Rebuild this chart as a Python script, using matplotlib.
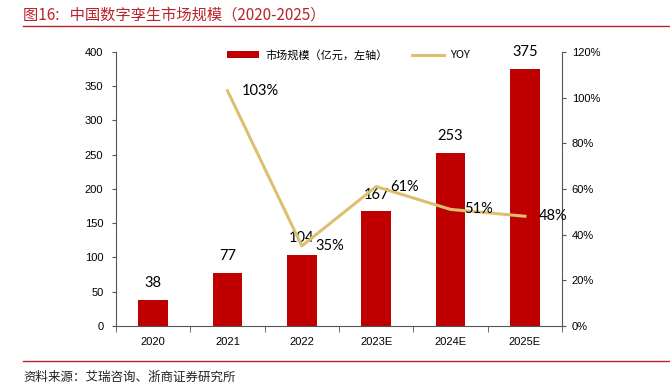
import matplotlib
matplotlib.use("Agg")
import matplotlib.pyplot as plt
from matplotlib.lines import Line2D
from matplotlib.patches import Patch

plt.rcParams['font.family'] = ['Liberation Sans', 'Noto Sans CJK SC', 'DejaVu Sans']

categories = ["2020", "2021", "2022", "2023E", "2024E", "2025E"]
market = [38, 77, 104, 167, 253, 375]
yoy_cats = ["2021", "2022", "2023E", "2024E", "2025E"]
yoy = [1.03, 0.35, 0.61, 0.51, 0.48]
yoy_labels = ["103%", "35%", "61%", "51%", "48%"]

bar_color = "#C00000"
line_color = "#DDC06F"
title_color = "#B8252B"

fig = plt.figure(figsize=(6.7, 3.87), dpi=100)
ax = fig.add_axes([0.173, 0.158, 0.666, 0.708])
ax2 = ax.twinx()

x = list(range(len(categories)))
ax.bar(x, market, width=0.4, color=bar_color, zorder=2)
for xi, v in zip(x, market):
    ax.annotate(str(v), (xi, v), xytext=(0, 7), textcoords="offset points",
                ha="center", va="bottom", fontsize=10.5, family=['Lato', 'DejaVu Sans'])

yx = [categories.index(c) for c in yoy_cats]
ax2.plot(yx, yoy, color=line_color, lw=2.2, zorder=3)
for xi, v, lab in zip(yx, yoy, yoy_labels):
    ax2.annotate(lab, (xi, v), xytext=(10, 0), textcoords="offset points",
                 ha="left", va="center", fontsize=10.5, family=['Lato', 'DejaVu Sans'])

ax.set_xlim(-0.5, len(categories) - 0.5)
ax.set_ylim(0, 400)
ax.set_yticks(range(0, 401, 50))
ax2.set_ylim(0, 1.2)
ax2.set_yticks([0, 0.2, 0.4, 0.6, 0.8, 1.0, 1.2])
ax2.set_yticklabels(["0%", "20%", "40%", "60%", "80%", "100%", "120%"])

ax.set_xticks(x)
ax.set_xticklabels(categories)
ax.set_xticks([i - 0.5 for i in range(len(categories) + 1)], minor=True)
ax.tick_params(axis='x', which='major', length=0, pad=8, labelsize=8)
ax.tick_params(axis='x', which='minor', length=4, direction='out', color='#555555')
ax.tick_params(axis='y', length=3, direction='out', labelsize=8, pad=6, color='#555555')
ax2.tick_params(axis='y', length=3, direction='out', labelsize=8, pad=4, color='#555555')

for a in (ax, ax2):
    a.spines['top'].set_visible(False)
    for s in ('left', 'right', 'bottom'):
        a.spines[s].set_color('#555555')
        a.spines[s].set_linewidth(0.8)
ax.spines['right'].set_visible(False)
ax2.spines['left'].set_visible(False)
ax2.spines['bottom'].set_visible(False)

handles = [Patch(facecolor=bar_color, label="市场规模（亿元，左轴）"),
           Line2D([0], [0], color=line_color, lw=2.2, label="YOY")]
leg = fig.legend(handles=handles, loc='center', bbox_to_anchor=(0.52, 0.858), ncol=2,
                 frameon=False, handlelength=2.9, handleheight=0.6, handletextpad=0.5,
                 columnspacing=2.2, prop={'family': ['Noto Sans CJK SC', 'DejaVu Sans'], 'size': 8})

fig.text(0.035, 0.962, "图16:   中国数字孪生市场规模（2020-2025）", color=title_color,
         fontsize=11, va='center', ha='left', family=['Noto Sans CJK SC', 'DejaVu Sans'])
fig.add_artist(Line2D([0.034, 1.0], [0.934, 0.934], color=title_color, lw=1.0))
fig.add_artist(Line2D([0.034, 1.0], [0.066, 0.066], color=title_color, lw=1.0))
fig.text(0.035, 0.025, "资料来源：艾瑞咨询、浙商证券研究所", color='#222222',
         fontsize=9, va='center', ha='left', family=['Noto Sans CJK SC', 'DejaVu Sans'])

fig.savefig("out.png", dpi=100)
